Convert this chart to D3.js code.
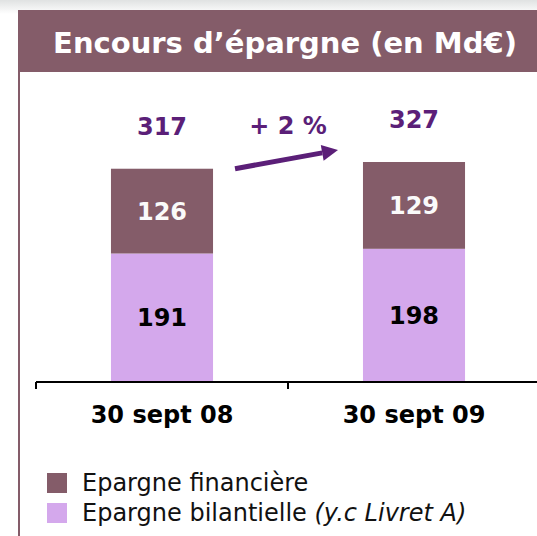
<!DOCTYPE html>
<html>
<head>
<meta charset="utf-8">
<script src="https://cdn.jsdelivr.net/npm/d3@7"></script>
<style>
  html, body { margin: 0; padding: 0; background: #fff; }
  svg { display: block; font-family: "DejaVu Sans", Verdana, sans-serif; }
</style>
</head>
<body>
<svg id="chart" width="537" height="536"></svg>
<script>
const categories = ["30 sept 08", "30 sept 09"];
const financiere = [126, 129];
const bilantielle = [191, 198];
const totals = [317, 327];
const growthLabel = "+ 2 %";
const seriesNames = ["Epargne financière", "Epargne bilantielle"];

const colors = { financiere: "#845c69", bilantielle: "#d4a8ec", total: "#5b1f78" };

const svg = d3.select("#chart");
const W = 537;

// light grey fade at the very top
const defs = svg.append("defs");
const grad = defs.append("linearGradient").attr("id", "topfade")
  .attr("x1", 0).attr("y1", 0).attr("x2", 0).attr("y2", 1);
grad.append("stop").attr("offset", "0%").attr("stop-color", "#e0e2e2");
grad.append("stop").attr("offset", "100%").attr("stop-color", "#ffffff");
svg.append("rect").attr("x", 0).attr("y", 0).attr("width", W).attr("height", 14)
  .attr("fill", "url(#topfade)");

// header band + left border
svg.append("rect").attr("x", 18).attr("y", 10).attr("width", W - 18).attr("height", 62)
  .attr("fill", colors.financiere);
svg.append("line").attr("x1", 19).attr("x2", 19).attr("y1", 72).attr("y2", 536)
  .attr("stroke", colors.financiere).attr("stroke-width", 2);
svg.append("text").attr("x", 285).attr("y", 53)
  .attr("text-anchor", "middle").attr("fill", "#fff")
  .attr("font-size", 29).attr("font-weight", "bold")
  .text("Encours d’épargne (en Md€)");

// scales
const x = d3.scaleBand().domain(categories).range([36, 540])
  .paddingInner(0.595).paddingOuter(0.2975);
const y = d3.scaleLinear().domain([0, 327]).range([382, 162]);

const rows = categories.map((c, i) => ({
  cat: c, fin: financiere[i], bil: bilantielle[i], total: totals[i]
}));

const g = svg.append("g");

// stacked bars
g.selectAll("rect.bil").data(rows).join("rect").attr("class", "bil")
  .attr("x", d => x(d.cat)).attr("width", x.bandwidth())
  .attr("y", d => y(d.bil)).attr("height", d => y(0) - y(d.bil))
  .attr("fill", colors.bilantielle);
g.selectAll("rect.fin").data(rows).join("rect").attr("class", "fin")
  .attr("x", d => x(d.cat)).attr("width", x.bandwidth())
  .attr("y", d => y(d.bil + d.fin)).attr("height", d => y(d.bil) - y(d.bil + d.fin))
  .attr("fill", colors.financiere);

// segment labels
g.selectAll("text.bil").data(rows).join("text").attr("class", "bil")
  .attr("x", d => x(d.cat) + x.bandwidth() / 2)
  .attr("y", d => (y(0) + y(d.bil)) / 2).attr("dy", "0.36em")
  .attr("text-anchor", "middle").attr("font-size", 24).attr("font-weight", "bold")
  .attr("fill", "#000").text(d => d.bil);
g.selectAll("text.fin").data(rows).join("text").attr("class", "fin")
  .attr("x", d => x(d.cat) + x.bandwidth() / 2)
  .attr("y", d => (y(d.bil) + y(d.bil + d.fin)) / 2).attr("dy", "0.36em")
  .attr("text-anchor", "middle").attr("font-size", 24).attr("font-weight", "bold")
  .attr("fill", "#fafafa").text(d => d.fin);

// totals
g.selectAll("text.total").data(rows).join("text").attr("class", "total")
  .attr("x", d => x(d.cat) + x.bandwidth() / 2)
  .attr("y", d => y(d.total) - 34)
  .attr("text-anchor", "middle").attr("font-size", 24).attr("font-weight", "bold")
  .attr("fill", colors.total).text(d => d.total);

// growth arrow
const a = rows[0], b = rows[1];
const x0 = x(a.cat) + x.bandwidth() + 22, y0 = y(a.total);
const x1 = x(b.cat) - 25, y1 = y(b.total) - 12;
const ang = Math.atan2(y1 - y0, x1 - x0);
const headL = 16, headW = 8;
const bx = x1 - headL * Math.cos(ang), by = y1 - headL * Math.sin(ang);
g.append("line").attr("x1", x0).attr("y1", y0).attr("x2", bx).attr("y2", by)
  .attr("stroke", colors.total).attr("stroke-width", 5);
g.append("path")
  .attr("d", d3.line()([
    [x1, y1],
    [bx + headW * Math.sin(ang), by - headW * Math.cos(ang)],
    [bx - headW * Math.sin(ang), by + headW * Math.cos(ang)]
  ]) + "Z")
  .attr("fill", colors.total);
g.append("text").attr("x", x(b.cat) - x.step() * x.paddingInner() / 2)
  .attr("y", 134).attr("text-anchor", "middle")
  .attr("font-size", 24).attr("font-weight", "bold").attr("fill", colors.total)
  .text(growthLabel);

// category axis
const axis = svg.append("g").attr("transform", `translate(0,${y(0)})`)
  .call(d3.axisBottom(x).tickSize(0).tickPadding(24));
axis.select(".domain").remove();
axis.selectAll("text").attr("font-size", 24).attr("font-weight", "bold")
  .attr("font-family", "DejaVu Sans, Verdana, sans-serif").attr("fill", "#000");
axis.append("line").attr("x1", x.range()[0]).attr("x2", W)
  .attr("y1", 0).attr("y2", 0).attr("stroke", "#000").attr("stroke-width", 2);
const edges = categories.map(c => x(c) - x.step() * x.paddingOuter());
axis.selectAll("line.edge").data(edges).join("line").attr("class", "edge")
  .attr("x1", d => d).attr("x2", d => d).attr("y1", 0).attr("y2", 7)
  .attr("stroke", "#000").attr("stroke-width", 2);

// legend
const legend = svg.append("g").attr("transform", "translate(47,473)");
const items = [
  { name: seriesNames[0], color: colors.financiere, extra: "" },
  { name: seriesNames[1], color: colors.bilantielle, extra: "(y.c Livret A)" }
];
const li = legend.selectAll("g").data(items).join("g")
  .attr("transform", (d, i) => `translate(0,${i * 30})`);
li.append("rect").attr("width", 20).attr("height", 20).attr("fill", d => d.color);
const lt = li.append("text").attr("x", 35).attr("y", 18)
  .attr("font-size", 24).attr("fill", "#111");
lt.append("tspan").text(d => d.name);
lt.filter(d => d.extra).append("tspan").attr("font-style", "italic")
  .text(d => " " + d.extra);
</script>
</body>
</html>
